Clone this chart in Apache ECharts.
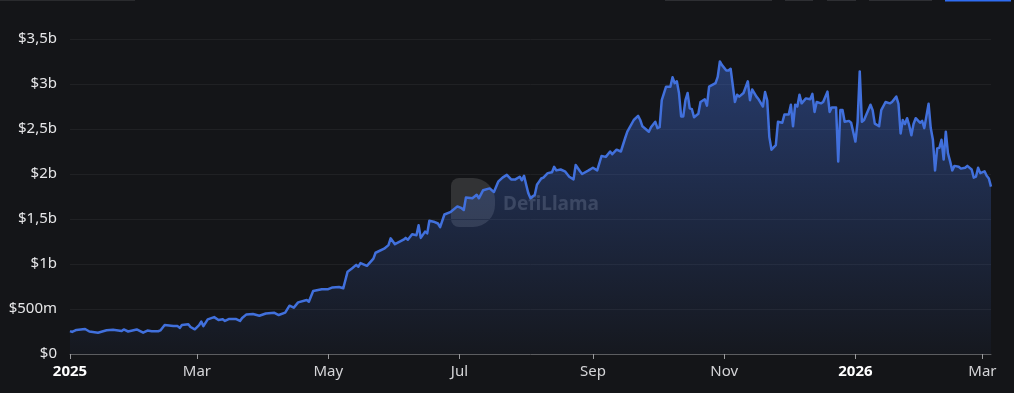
<!DOCTYPE html>
<html>
<head>
<meta charset="utf-8">
<script src="https://cdn.jsdelivr.net/npm/echarts@6/dist/echarts.min.js"></script>
<style>
html,body{margin:0;padding:0;background:#141518;}
#c{width:1014px;height:393px;}
</style>
</head>
<body>
<div id="c"></div>
<script>
// days since 2025-01-01
const days = [0,1,3,7,9,13,17,20,24,25,27,31,34,36,38,41,42,44,48,50,51,52,55,56,58,60,61,62,64,67,69,71,72,74,77,79,80,82,85,88,91,95,97,100,102,104,106,110,111,113,117,120,122,125,127,129,131,133,134,135,138,141,142,146,148,149,151,155,156,157,159,161,162,163,165,166,167,169,171,172,174,177,180,182,183,184,187,189,190,192,195,197,199,201,203,205,207,209,210,211,212,213,214,216,217,218,219,220,222,224,225,226,228,230,232,234,235,237,238,241,243,245,247,249,251,252,254,256,258,259,262,264,265,266,269,270,272,273,274,275,277,279,280,281,282,283,284,285,286,287,288,289,290,292,293,295,296,297,300,301,302,303,305,306,307,309,310,311,313,315,316,317,319,320,322,323,324,325,326,328,329,331,332,334,335,336,337,338,339,340,342,344,345,346,347,349,350,352,353,354,356,357,358,359,360,362,363,365,366,367,368,369,372,373,374,376,377,379,381,382,384,385,386,387,388,389,390,391,392,393,395,396,397,399,400,401,402,403,404,405,406,407,408,409,410,411,413,414,416,417,419,420,421,422,423,425,426,427,428];
// TVL in billions USD
const values = [0.255,0.245,0.267,0.278,0.25,0.237,0.263,0.27,0.255,0.273,0.25,0.273,0.237,0.26,0.253,0.253,0.262,0.322,0.31,0.31,0.29,0.322,0.33,0.30,0.274,0.32,0.36,0.31,0.385,0.41,0.378,0.385,0.367,0.39,0.39,0.367,0.40,0.44,0.445,0.425,0.45,0.458,0.433,0.46,0.537,0.515,0.574,0.60,0.58,0.70,0.72,0.72,0.74,0.745,0.73,0.915,0.95,0.99,0.97,1.01,0.98,1.06,1.125,1.17,1.21,1.285,1.22,1.27,1.29,1.27,1.33,1.32,1.43,1.29,1.36,1.34,1.48,1.47,1.45,1.41,1.55,1.58,1.64,1.62,1.60,1.74,1.73,1.77,1.73,1.82,1.84,1.80,1.915,1.96,1.99,1.94,1.94,1.97,1.93,1.98,1.88,1.785,1.73,1.77,1.88,1.915,1.95,1.96,2.01,2.02,2.08,2.04,2.05,2.03,1.97,1.94,2.10,2.03,2.0,2.04,2.07,2.04,2.2,2.19,2.25,2.22,2.27,2.25,2.40,2.47,2.6,2.645,2.6,2.53,2.47,2.52,2.58,2.51,2.52,2.82,2.97,2.97,3.075,3.01,3.03,2.9,2.64,2.64,2.82,2.90,2.73,2.72,2.63,2.67,2.80,2.83,2.76,2.97,3.01,3.08,3.25,3.21,3.15,3.15,3.17,2.80,2.88,2.86,2.90,3.03,2.82,2.94,2.86,2.83,2.75,2.91,2.82,2.41,2.27,2.32,2.58,2.57,2.66,2.66,2.77,2.53,2.77,2.75,2.88,2.785,2.84,2.83,2.89,2.69,2.80,2.785,2.80,2.915,2.69,2.74,2.74,2.14,2.71,2.71,2.58,2.59,2.57,2.36,2.58,3.14,2.58,2.60,2.77,2.71,2.56,2.53,2.71,2.80,2.785,2.80,2.86,2.78,2.45,2.6,2.555,2.62,2.54,2.43,2.555,2.62,2.57,2.59,2.51,2.78,2.51,2.38,2.04,2.285,2.29,2.38,2.16,2.47,2.23,2.14,2.04,2.09,2.08,2.06,2.07,2.09,2.05,1.96,1.97,2.07,2.01,2.03,1.98,1.95,1.86];

const tickDates = ['2025-01-01','2025-03-01','2025-05-01','2025-07-01','2025-09-01','2025-11-01','2026-01-01','2026-03-01'];
const tickLabels = ['2025','Mar','May','Jul','Sep','Nov','2026','Mar'];
const yTicks = [0,0.5,1,1.5,2,2.5,3,3.5];
const yTickLabels = ['$0','$500m','$1b','$1,5b','$2b','$2,5b','$3b','$3,5b'];

const DAY = 86400000;
const start = Date.UTC(2025,0,1);
const seriesData = days.map((d,i)=>[d, values[i]]);
const tickDays = tickDates.map(s=>Math.round((Date.parse(s+'T00:00:00Z')-start)/DAY));

const chart = echarts.init(document.getElementById('c'), null, {renderer:'canvas'});
chart.setOption({
  backgroundColor:'#141518',
  animation:false,
  grid:{left:70,right:23,top:39,bottom:39,containLabel:false},
  xAxis:{
    type:'value',
    min:0,
    max:428,
    axisLine:{show:true,lineStyle:{color:'#5c5d60',width:1}},
    axisTick:{show:true,customValues:tickDays,length:5,lineStyle:{color:'#9a9b9e'}},
    splitLine:{show:false},
    axisLabel:{
      customValues:tickDays,
      margin:10,
      color:'#d4d4d7',
      fontFamily:'Noto Sans',
      fontSize:15,
      hideOverlap:false,
      showMinLabel:true,
      showMaxLabel:true,
      formatter:function(v){
        const i = tickDays.indexOf(Math.round(v));
        const l = i>=0 ? tickLabels[i] : '';
        return /^\d{4}$/.test(l) ? '{y|'+l+'}' : l;
      },
      rich:{y:{fontWeight:'bold',color:'#ffffff',fontFamily:'Noto Sans',fontSize:15}}
    }
  },
  yAxis:{
    type:'value',
    min:0,max:3.5,interval:0.5,
    axisLine:{show:false},
    axisTick:{show:false},
    splitLine:{show:true,lineStyle:{color:'#202124',width:1}},
    axisLabel:{
      margin:13,
      color:'#e6e6e8',
      fontFamily:'Noto Sans',
      fontSize:15,
      formatter:function(v){
        const i = yTicks.findIndex(t=>Math.abs(t-v)<1e-9);
        return i>=0 ? yTickLabels[i] : '';
      }
    }
  },
  graphic:[
    {type:'rect',left:0,top:0,shape:{width:135,height:1},style:{fill:'#2a2b2e'},silent:true},
    {type:'rect',left:665,top:0,shape:{width:107,height:1},style:{fill:'#2e2f33'},silent:true},
    {type:'rect',left:785,top:0,shape:{width:28,height:1},style:{fill:'#2e2f33'},silent:true},
    {type:'rect',left:827,top:0,shape:{width:29,height:1},style:{fill:'#2e2f33'},silent:true},
    {type:'rect',left:869,top:0,shape:{width:63,height:1},style:{fill:'#2e2f33'},silent:true},
    {type:'rect',left:945,top:0,shape:{width:66,height:1.5},style:{fill:'#2f6df2'},silent:true},
    {type:'rect',left:451,top:178,z:-1,shape:{width:44,height:49,r:[8,22,22,8]},style:{fill:'rgba(255,255,255,0.13)'},silent:true},
    {type:'text',left:503,top:195,z:-1,style:{text:'DefiLlama',fill:'rgba(255,255,255,0.17)',font:'bold 19px "Noto Sans"'},silent:true}
  ],
  series:[{
    type:'line',
    data:seriesData,
    showSymbol:false,
    smooth:false,
    lineStyle:{color:'#4170dc',width:2.5,join:'round'},
    itemStyle:{color:'#4170dc'},
    areaStyle:{
      color:new echarts.graphic.LinearGradient(0,0,0,1,[
        {offset:0,color:'rgba(62,108,215,0.62)'},
        {offset:1,color:'rgba(62,108,215,0.05)'}
      ])
    }
  }]
});
</script>
</body>
</html>
